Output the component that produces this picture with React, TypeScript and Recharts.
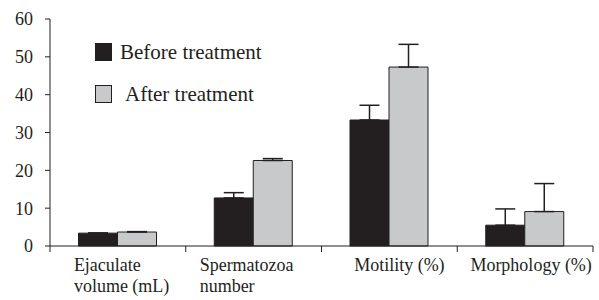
import { BarChart, Bar, XAxis, YAxis, ErrorBar } from 'recharts';

const categories = ['Ejaculate\nvolume (mL)', 'Spermatozoa\nnumber', 'Motility (%)', 'Morphology (%)'];
const before = [3.4, 12.7, 33.3, 5.5];
const beforeErr = [0.05, 1.4, 3.9, 4.3];
const after = [3.7, 22.6, 47.3, 9.1];
const afterErr = [0.1, 0.5, 6.0, 7.4];
const yTicks = [0, 10, 20, 30, 40, 50, 60];

const data = categories.map((name, i) => ({
  name,
  before: before[i],
  beforeErr: [0, beforeErr[i]],
  after: after[i],
  afterErr: [0, afterErr[i]],
}));

const FONT = 'Times New Roman, Liberation Serif, DejaVu Serif, serif';
const INK = '#231f20';
const GREY = '#c8c9cb';

// per-label horizontal nudge; two-line labels are left aligned
const labelShift = [-44, -54, 10, 6];

const CategoryTick = (props: any) => {
  const { x, y, payload, index, width, visibleTicksCount } = props;
  const bw = width && visibleTicksCount ? width / visibleTicksCount : 135.75;
  const lines = String(payload.value).split('\n');
  const multi = lines.length > 1;
  return (
    <g>
      <line x1={x - bw / 2} x2={x - bw / 2} y1={y} y2={y + 6} stroke={INK} />
      {index === visibleTicksCount - 1 && (
        <line x1={x + bw / 2} x2={x + bw / 2} y1={y} y2={y + 6} stroke={INK} />
      )}
      <text
        x={x + labelShift[index]}
        y={y + 25}
        textAnchor={multi ? 'start' : 'middle'}
        style={{ fontFamily: FONT }}
        fontSize={18}
        fill={INK}
      >
        {lines.map((l, j) => (
          <tspan key={j} x={x + labelShift[index]} dy={j === 0 ? 0 : 21}>
            {l}
          </tspan>
        ))}
      </text>
    </g>
  );
};

// legend sits inside the plot area, so it is overlaid rather than given space
const LegendBox = () => (
  <div style={{ position: 'absolute', left: 95, top: 41, fontFamily: FONT, fontSize: 21, color: INK, lineHeight: '22px' }}>
    <div style={{ display: 'flex', alignItems: 'center', height: 22 }}>
      <span style={{ width: 15, height: 16, background: INK, border: `1px solid ${INK}`, marginRight: 8 }} />
      <span>Before treatment</span>
    </div>
    <div style={{ display: 'flex', alignItems: 'center', height: 22, marginTop: 20 }}>
      <span style={{ width: 15, height: 16, background: GREY, border: `1px solid ${INK}`, marginRight: 13 }} />
      <span>After treatment</span>
    </div>
  </div>
);

export default function App() {
  return (
    <div style={{ position: 'absolute', left: 0, top: 0, width: 599, height: 300, background: '#fff', fontFamily: FONT }}>
      <BarChart
        width={599}
        height={300}
        data={data}
        margin={{ top: 19, right: 6, left: 0, bottom: 4 }}
        barCategoryGap="21%"
        barGap={0}
        style={{ fontFamily: FONT }}
      >
        <XAxis
          dataKey="name"
          interval={0}
          height={50}
          tickLine={false}
          tickSize={0}
          tickMargin={0}
          axisLine={{ stroke: INK }}
          tick={<CategoryTick />}
        />
        <YAxis
          width={50}
          domain={[0, 60]}
          ticks={yTicks}
          interval={0}
          tickSize={5}
          tickMargin={12}
          axisLine={{ stroke: INK }}
          tickLine={{ stroke: INK }}
          tick={{ fontSize: 18, fill: INK, style: { fontFamily: FONT } }}
        />
        <Bar dataKey="before" fill={INK} stroke={INK} isAnimationActive={false}>
          <ErrorBar dataKey="beforeErr" width={10} stroke={INK} strokeWidth={1.5} />
        </Bar>
        <Bar dataKey="after" fill={GREY} stroke={INK} isAnimationActive={false}>
          <ErrorBar dataKey="afterErr" width={10} stroke={INK} strokeWidth={1.5} />
        </Bar>
      </BarChart>
      <LegendBox />
    </div>
  );
}
